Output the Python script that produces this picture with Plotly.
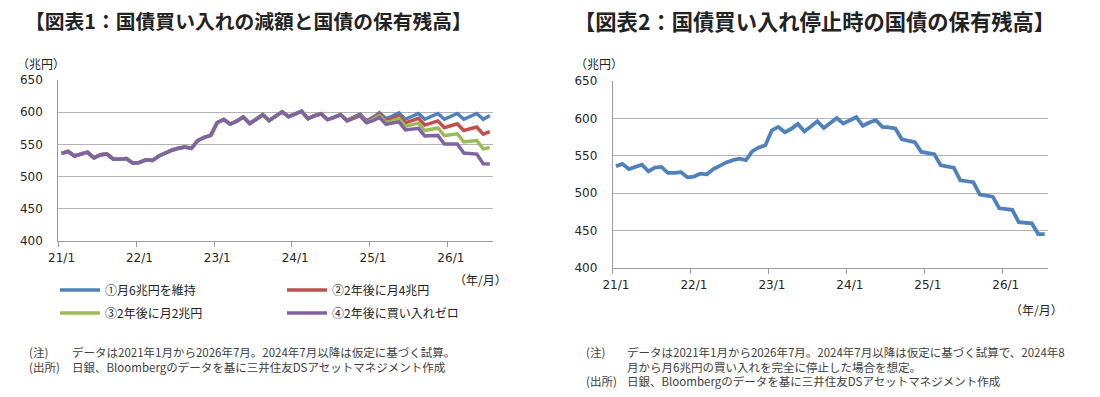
import plotly.graph_objects as go

# ---------------- data (trillion yen, monthly 2021/1 - 2026/7) ----------------
months = [f"{2021 + k // 12}/{k % 12 + 1}" for k in range(67)]

# common actual history 2021/1 - 2024/6
history = [536, 539, 532, 535, 538, 529, 534, 535, 527, 527, 528, 521,
           522, 526, 525, 532, 537, 541, 544, 546, 544, 556, 561, 564,
           584, 588.5, 581.5, 586, 592.5, 582.5, 589, 596, 587, 594, 600.5, 593,
           597, 601.5, 590, 594.5, 597.5, 588.5]

# chart 1 scenarios, 2024/7 - 2026/7
keep6 = [592, 596.5, 587.5, 592, 597, 587, 592, 599, 590, 594, 599, 589,
         593, 598, 589, 593, 598, 589, 593, 598, 589, 593, 598, 589, 595]
to4 = [592, 596.5, 587.5, 591.5, 595.5, 585.5, 590, 597, 587, 590, 594.5, 583.5,
       586.5, 590.5, 580, 583, 586.5, 576, 579, 582, 571.5, 574, 577, 566, 570]
to2 = [592, 596, 587, 591, 594.5, 584, 588.5, 594.5, 584, 586.5, 590, 578,
       580, 583, 571.5, 573, 575.5, 563.5, 564.5, 566.5, 554, 555.5, 556, 543, 545]
to0 = [592, 596, 586.5, 590.5, 594.5, 583.5, 587, 592, 581, 583, 585, 572.5,
       573.5, 575, 563, 563, 564, 550.5, 550, 550.5, 536.5, 535.5, 535, 520, 519.5]

# chart 2: purchases stopped
stop = [588, 586.5, 572, 570, 568, 555, 553.5, 552, 537, 535, 534, 517,
        515.5, 514.5, 498, 496.5, 495, 479.5, 478.5, 477.5, 461, 460, 459.5, 445, 445]

series_names = ["①月6兆円を維持", "②2年後に月4兆円", "③2年後に月2兆円", "④2年後に買い入れゼロ"]
series_tails = [keep6, to4, to2, to0]
series_colors = ["#4F81BD", "#C0504D", "#9BBB59", "#8064A2"]
series_legend = ["legend", "legend", "legend2", "legend2"]

tick_labels = ["21/1", "22/1", "23/1", "24/1", "25/1", "26/1"]
y_ticks = [400, 450, 500, 550, 600, 650]

# ---------------- figure ----------------
W, H = 1100, 397
def px(x):
    return x / W
def py(y):
    return 1 - y / H

x = list(range(len(months)))
tick_pos = [i for i, m in enumerate(months) if m.endswith("/1")]
minor_pos = [p - 0.5 for p in tick_pos]

fig = go.Figure()
for name, tail, color, lg in zip(series_names, series_tails, series_colors, series_legend):
    fig.add_trace(go.Scatter(x=x, y=history + tail, mode="lines", name=name,
                             line=dict(color=color, width=3.5), legend=lg,
                             xaxis="x", yaxis="y", hoverinfo="skip"))
fig.add_trace(go.Scatter(x=x, y=history + stop, mode="lines", name="停止",
                         line=dict(color="#4F81BD", width=3.8), showlegend=False,
                         xaxis="x2", yaxis="y2", hoverinfo="skip"))

tickfont = dict(family="DejaVu Sans", size=12, color="#262626")
grid = "#B3B3B3"
axcol = "#9A9A9A"

def xaxis_def(domain, anchor):
    return dict(domain=domain, anchor=anchor, range=[-0.5, len(months) - 0.5],
                tickmode="array", tickvals=tick_pos, ticktext=tick_labels,
                ticks="", showgrid=False, showline=True, linecolor=axcol, linewidth=1,
                tickfont=tickfont, ticklabelstandoff=6, zeroline=False, automargin=False,
                fixedrange=True,
                minor=dict(tickmode="array", tickvals=minor_pos, ticks="outside",
                           ticklen=5, tickcolor=axcol, showgrid=False))

def yaxis_def(domain, anchor):
    return dict(domain=domain, anchor=anchor, range=[400, 650],
                tickmode="array", tickvals=y_ticks, showgrid=True, gridcolor=grid,
                gridwidth=1, showline=True, linecolor=axcol, linewidth=1, ticks="",
                tickfont=tickfont, ticklabelstandoff=12, zeroline=False, automargin=False,
                fixedrange=True)

jp = "Noto Sans CJK JP"
note_font = dict(family=jp, size=11.5, color="#404040")
lab_font = dict(family=jp, size=12, color="#222222")

annotations = [
    dict(text="<b>【図表1：国債買い入れの減額と国債の保有残高】</b>", x=px(248.5), y=py(20),
         font=dict(family=jp, size=19.8, color="#222222")),
    dict(text="<b>【図表2：国債買い入れ停止時の国債の保有残高】</b>", x=px(814.5), y=py(20),
         font=dict(family=jp, size=21.3, color="#222222")),
    dict(text="（兆円）", x=px(41), y=py(64), font=lab_font),
    dict(text="（兆円）", x=px(599), y=py(64), font=lab_font),
    dict(text="（年/月）", x=px(480), y=py(279), font=lab_font),
    dict(text="（年/月）", x=px(1036), y=py(309), font=lab_font),
    dict(text="(注)", x=px(27), y=py(352), xanchor="left", font=note_font),
    dict(text="データは2021年1月から2026年7月。2024年7月以降は仮定に基づく試算。",
         x=px(70), y=py(352), xanchor="left", font=note_font),
    dict(text="(出所)", x=px(27), y=py(367), xanchor="left", font=note_font),
    dict(text="日銀、Bloombergのデータを基に三井住友DSアセットマネジメント作成",
         x=px(70), y=py(367), xanchor="left", font=note_font),
    dict(text="(注)", x=px(584), y=py(352), xanchor="left", font=note_font),
    dict(text="データは2021年1月から2026年7月。2024年7月以降は仮定に基づく試算で、2024年8",
         x=px(625), y=py(352), xanchor="left", font=note_font),
    dict(text="月から月6兆円の買い入れを完全に停止した場合を想定。",
         x=px(625), y=py(366.5), xanchor="left", font=note_font),
    dict(text="(出所)", x=px(584), y=py(381), xanchor="left", font=note_font),
    dict(text="日銀、Bloombergのデータを基に三井住友DSアセットマネジメント作成",
         x=px(625), y=py(381), xanchor="left", font=note_font),
]
for a in annotations:
    a.update(xref="paper", yref="paper", showarrow=False)
    a.setdefault("xanchor", "center")
    a.setdefault("yanchor", "middle")

legend_common = dict(orientation="h", xanchor="left", yanchor="middle",
                     entrywidth=172, entrywidthmode="pixels",
                     font=dict(family=jp, size=12, color="#222222"),
                     bgcolor="rgba(0,0,0,0)", borderwidth=0, itemwidth=40,
                     tracegroupgap=0)

fig.update_layout(
    width=W, height=H, margin=dict(l=0, r=0, t=0, b=0, autoexpand=False),
    paper_bgcolor="white", plot_bgcolor="white",
    xaxis=xaxis_def([px(58.3), px(493)], "y"),
    yaxis=yaxis_def([py(241), py(80)], "x"),
    xaxis2=xaxis_def([px(612.7), px(1048)], "y2"),
    yaxis2=yaxis_def([py(267.7), py(81)], "x2"),
    legend=dict(x=px(55), y=py(290), **legend_common),
    legend2=dict(x=px(55), y=py(313), **legend_common),
    annotations=annotations,
    showlegend=True,
    hovermode=False,
)

fig.write_html("out.html", config={"displayModeBar": False},
               post_script="document.body.style.margin='0';")
